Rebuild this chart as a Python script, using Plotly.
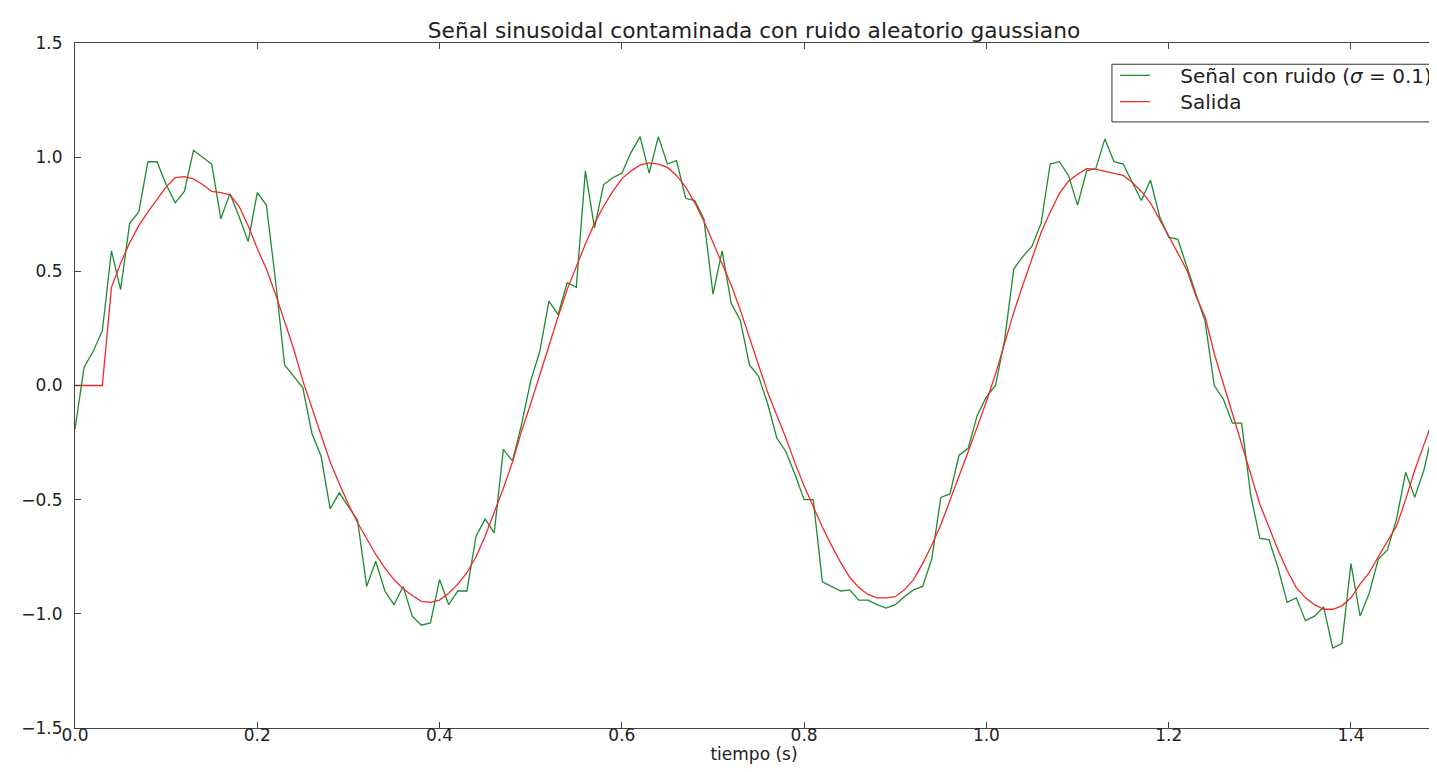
import plotly.graph_objects as go

# time axis (s): 150 samples, 0.01 s step
t = [round(0.01 * i, 2) for i in range(150)]

# noisy signal (green)
senal_ruido = [
    -0.19, 0.08, 0.15, 0.24, 0.59, 0.42, 0.71, 0.76, 0.98, 0.98,
    0.88, 0.80, 0.85, 1.03, 1.00, 0.97, 0.73, 0.84, 0.74, 0.63,
    0.845, 0.79, 0.46, 0.09, 0.04, -0.01, -0.21, -0.31, -0.54, -0.47,
    -0.53, -0.59, -0.88, -0.77, -0.90, -0.96, -0.88, -1.01, -1.05, -1.04,
    -0.85, -0.96, -0.90, -0.90, -0.66, -0.585, -0.645, -0.28, -0.33, -0.17,
    0.02, 0.15, 0.37, 0.31, 0.45, 0.43, 0.94, 0.69, 0.88, 0.91,
    0.93, 1.02, 1.09, 0.93, 1.09, 0.97, 0.985, 0.82, 0.81, 0.73,
    0.40, 0.59, 0.36, 0.285, 0.09, 0.04, -0.08, -0.23, -0.29, -0.39,
    -0.50, -0.50, -0.86, -0.88, -0.90, -0.895, -0.94, -0.94, -0.96, -0.975,
    -0.96, -0.925, -0.895, -0.88, -0.76, -0.49, -0.475, -0.305, -0.275, -0.13,
    -0.05, 0.0, 0.20, 0.51, 0.565, 0.61, 0.71, 0.97, 0.98, 0.92,
    0.79, 0.94, 0.95, 1.08, 0.98, 0.97, 0.89, 0.81, 0.90, 0.74,
    0.65, 0.64, 0.52, 0.40, 0.28, 0.0, -0.06, -0.165, -0.165, -0.48,
    -0.67, -0.675, -0.80, -0.95, -0.93, -1.03, -1.01, -0.97, -1.15, -1.13,
    -0.78, -1.01, -0.91, -0.76, -0.72, -0.585, -0.38, -0.49, -0.37, -0.20,
]

# filter output (red)
salida = [
    0.0, 0.0, 0.0, 0.0, 0.43, 0.535, 0.625, 0.70, 0.76, 0.815,
    0.87, 0.91, 0.915, 0.905, 0.88, 0.85, 0.845, 0.835, 0.785, 0.70,
    0.60, 0.51, 0.40, 0.28, 0.16, 0.02, -0.10, -0.22, -0.335, -0.43,
    -0.52, -0.60, -0.67, -0.74, -0.80, -0.85, -0.89, -0.92, -0.945, -0.95,
    -0.94, -0.91, -0.87, -0.82, -0.75, -0.66, -0.555, -0.45, -0.335, -0.20,
    -0.08, 0.05, 0.17, 0.30, 0.42, 0.52, 0.62, 0.71, 0.785, 0.85,
    0.905, 0.94, 0.965, 0.975, 0.97, 0.955, 0.92, 0.87, 0.80, 0.72,
    0.625, 0.53, 0.44, 0.33, 0.21, 0.08, -0.03, -0.13, -0.23, -0.34,
    -0.44, -0.53, -0.62, -0.70, -0.775, -0.84, -0.885, -0.915, -0.93, -0.93,
    -0.925, -0.895, -0.85, -0.78, -0.70, -0.61, -0.505, -0.40, -0.29, -0.18,
    -0.07, 0.05, 0.19, 0.32, 0.44, 0.56, 0.67, 0.76, 0.84, 0.895,
    0.925, 0.95, 0.948, 0.938, 0.93, 0.92, 0.89, 0.85, 0.80, 0.73,
    0.655, 0.58, 0.505, 0.39, 0.30, 0.14, 0.01, -0.12, -0.25, -0.39,
    -0.52, -0.62, -0.72, -0.81, -0.885, -0.93, -0.96, -0.98, -0.98, -0.965,
    -0.93, -0.87, -0.82, -0.75, -0.68, -0.615, -0.50, -0.37, -0.26, -0.15,
]

x_ticks = [0.0, 0.2, 0.4, 0.6, 0.8, 1.0, 1.2, 1.4]
y_ticks = [-1.5, -1.0, -0.5, 0.0, 0.5, 1.0, 1.5]

FONT = "DejaVu Sans"
PAD = "\u00a0\u00a0\u00a0\u00a0"

fig = go.Figure()
fig.add_trace(go.Scatter(
    x=t, y=senal_ruido, mode="lines",
    name=PAD + "Señal con ruido (<i>σ</i> = 0.1)",
    line=dict(color="#1f8a30", width=1.3),
    legend="legend",
))
fig.add_trace(go.Scatter(
    x=t, y=salida, mode="lines",
    name=PAD + "Salida",
    line=dict(color="#f02a2a", width=1.3),
    legend="legend2",
))

axis_common = dict(
    showgrid=False, zeroline=False,
    showline=True, linecolor="#444", linewidth=1,
    ticks="inside", ticklen=6, tickwidth=1, tickcolor="#444",
    tickfont=dict(family=FONT, size=17, color="#222"),
    tickformat=".1f",
    automargin=False,
)

# plot-area pixel geometry (window coords): left 75, right 1437, top 43, bottom 720
PX_L, PX_W, PX_B, PX_H = 75, 1362, 720, 677


def px_x(px):
    return (px - PX_L) / PX_W


def px_y(py):
    return (PX_B - py) / PX_H


legend_common = dict(
    xanchor="left", yanchor="middle",
    bgcolor="rgba(0,0,0,0)", borderwidth=0,
    font=dict(family=FONT, size=20, color="#222"),
    itemwidth=30,
)

# page body has an 8px margin: figure is shifted so the axes land at the
# same window position as in the reference; the right strip is off-screen
fig.update_layout(
    width=1437, height=756,
    margin=dict(l=67, r=8, t=35, b=36),
    paper_bgcolor="white", plot_bgcolor="white",
    font=dict(family=FONT, size=17, color="#222"),
    title=dict(
        text="Señal sinusoidal contaminada con ruido aleatorio gaussiano",
        x=0.5, xref="paper", xanchor="center",
        y=1 - 22 / 756, yref="container", yanchor="middle",
        font=dict(family=FONT, size=21.7, color="#222"),
    ),
    xaxis=dict(
        range=[0, 1.49], tickvals=x_ticks, mirror="ticks",
        ticklabelstandoff=-8,
        title=dict(text="tiempo (s)", standoff=10,
                   font=dict(family=FONT, size=17, color="#222")),
        **axis_common,
    ),
    yaxis=dict(
        range=[-1.5, 1.5], tickvals=y_ticks, mirror=False,
        ticklabelstandoff=8,
        **axis_common,
    ),
    legend=dict(x=px_x(1118), y=px_y(75), **legend_common),
    legend2=dict(x=px_x(1118), y=px_y(101), **legend_common),
    shapes=[dict(
        type="rect", xref="paper", yref="paper", layer="above",
        x0=px_x(1115), x1=px_x(1460), y0=px_y(121), y1=px_y(64),
        fillcolor="white", line=dict(color="#333", width=1),
    )],
    showlegend=True,
)

fig.write_html("out.html")
